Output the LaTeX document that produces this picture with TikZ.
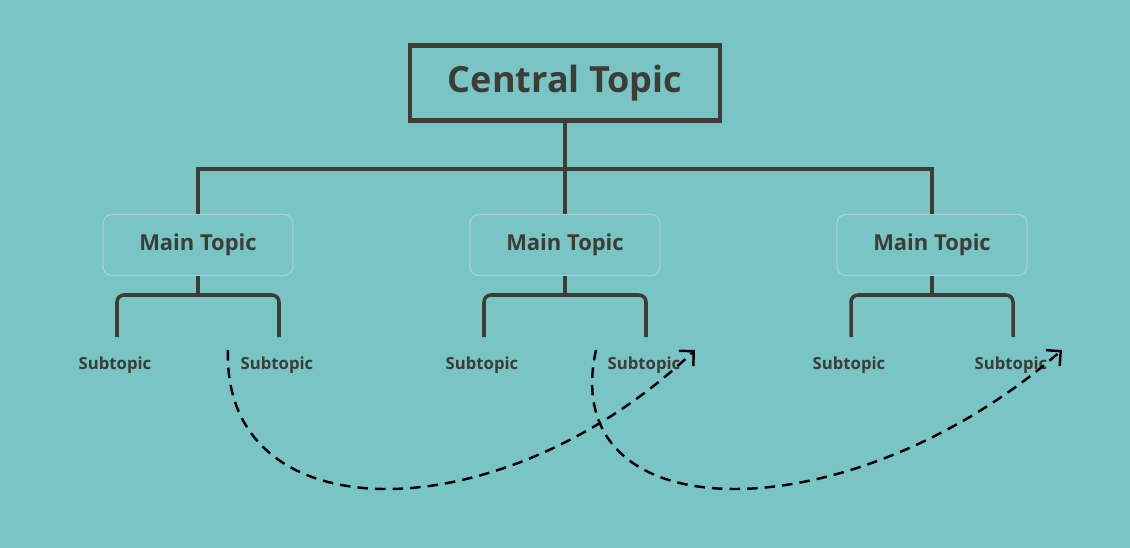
\documentclass[tikz,border=0pt]{standalone}
\usepackage{fontspec}
\setmainfont{Open Sans}
\usetikzlibrary{arrows.meta,positioning}
\definecolor{bgteal}{RGB}{121,196,197}
\definecolor{ink}{RGB}{61,61,53}
\definecolor{soft}{RGB}{170,205,205}
\tikzset{
  central/.style = {draw=ink, line width=2.8pt, minimum width=6.2cm, minimum height=1.5cm, font=\bfseries\fontsize{20.5}{24}\selectfont, text=ink},
  maintopic/.style = {draw=soft, line width=0.8pt, rounded corners=5pt, minimum width=3.8cm, minimum height=1.22cm, font=\bfseries\fontsize{12.5}{15}\selectfont, text=ink},
  subtopic/.style = {font=\bfseries\fontsize{9.5}{11}\selectfont, text=ink},
  branch/.style = {draw=ink, line width=2pt},
  twig/.style = {draw=ink, line width=2pt, rounded corners=4pt},
  jump/.style = {line width=1.4pt, dash pattern=on 6pt off 4pt, -{Straight Barb[length=6pt,width=12pt]}},
}
\begin{document}
\begin{tikzpicture}[x=0.02cm, y=-0.02cm]
\fill[bgteal] (0,0) rectangle (1130,548);
\useasboundingbox (0,0) rectangle (1130,548);

\node[central] (ct) at (565,83) {Central Topic};
\node[maintopic] (m1) at (198,245) {Main Topic};
\node[maintopic] (m2) at (565,245) {Main Topic};
\node[maintopic] (m3) at (932,245) {Main Topic};

% main branches
\draw[branch] (ct.south) -- (565,169) -| (m1.north);
\draw[branch] (565,169) -| (m3.north);
\draw[branch] (565,169) -- (m2.north);

% subtopics
\foreach \m/\x in {1/198, 2/565, 3/932} {
  \node[subtopic] (s\m a) at (\x-83,365) {Subtopic};
  \node[subtopic] (s\m b) at (\x+79,365) {Subtopic};
  \draw[branch] (m\m.south) -- (\x,295);
  \draw[twig] (\x-81,337) -- (\x-81,295) -- (\x+81,295) -- (\x+81,337);
}

% relation arrows
\coordinate (r1) at (228,350);
\coordinate (t1) at (695,350);
\coordinate (r2) at (596,350);
\coordinate (t2) at (1062,350);
\draw[jump] (r1) .. controls (222,535) and (500,535) .. (t1);
\draw[jump] (r2) .. controls (555,535) and (850,535) .. (t2);
\end{tikzpicture}
\end{document}
